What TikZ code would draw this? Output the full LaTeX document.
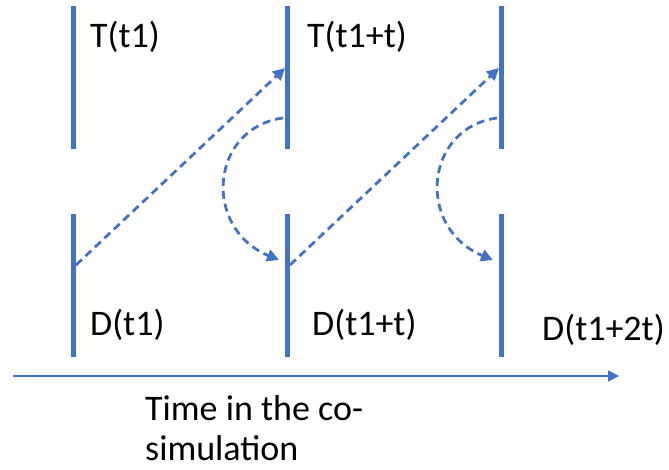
\documentclass[tikz,border=0pt]{standalone}
\usepackage{fontspec}
\setmainfont{Carlito}
\usetikzlibrary{arrows.meta}
\definecolor{bl}{HTML}{4472C4}
\begin{document}
\begin{tikzpicture}[x=1pt,y=-1pt,
  bar/.style={line width=5pt, draw=bl},
  lbl/.style={anchor=base west, inner sep=0pt, font=\fontsize{36}{42}\selectfont},
  dsh/.style={draw=bl, line width=2.8pt, dash pattern=on 8pt off 5pt, -{Triangle[length=12pt,width=12pt]}},
  axis/.style={draw=bl, line width=1.8pt, -{Triangle[length=11pt,width=11pt]}}]
\useasboundingbox (0,0) rectangle (669,469);
% bars
\foreach \n/\x in {1/73,2/287,3/501}{
  \coordinate (Ta\n) at (\x,6);   \coordinate (Tb\n) at (\x,149);
  \coordinate (Da\n) at (\x,214); \coordinate (Db\n) at (\x,357);
  \draw[bar] (Ta\n) -- (Tb\n);
  \draw[bar] (Da\n) -- (Db\n);
}
% arrow end points
\coordinate (s1) at (76,265);
\coordinate (e1) at (285,68);
\coordinate (c1) at (283,118);
\coordinate (f1) at (279,260);
\coordinate (s2) at (290,265);
\coordinate (e2) at (499,68);
\coordinate (c2) at (497,118);
\coordinate (f2) at (493,260);
\draw[dsh] (s1) -- (e1);
\draw[dsh] (s2) -- (e2);
\draw[dsh] (c1) .. controls (210,128) and (202,228) .. (f1);
\draw[dsh] (c2) .. controls (424,128) and (416,228) .. (f2);
% axis
\coordinate (ax0) at (13,376);
\coordinate (ax1) at (619,376);
\draw[axis] (ax0) -- (ax1);
% labels
\node[lbl] (lt1) at (90,47) {T(t1)};
\node[lbl] (lt2) at (307,47) {T(t1+t)};
\node[lbl] (ld1) at (90,335) {D(t1)};
\node[lbl] (ld2) at (312,335) {D(t1+t)};
\node[lbl] (ld3) at (542,340) {D(t1+2t)};
\node[lbl] (tm1) at (145,420) {Time in the co-};
\node[lbl] (tm2) at (145,460) {simulation};
\end{tikzpicture}
\end{document}
